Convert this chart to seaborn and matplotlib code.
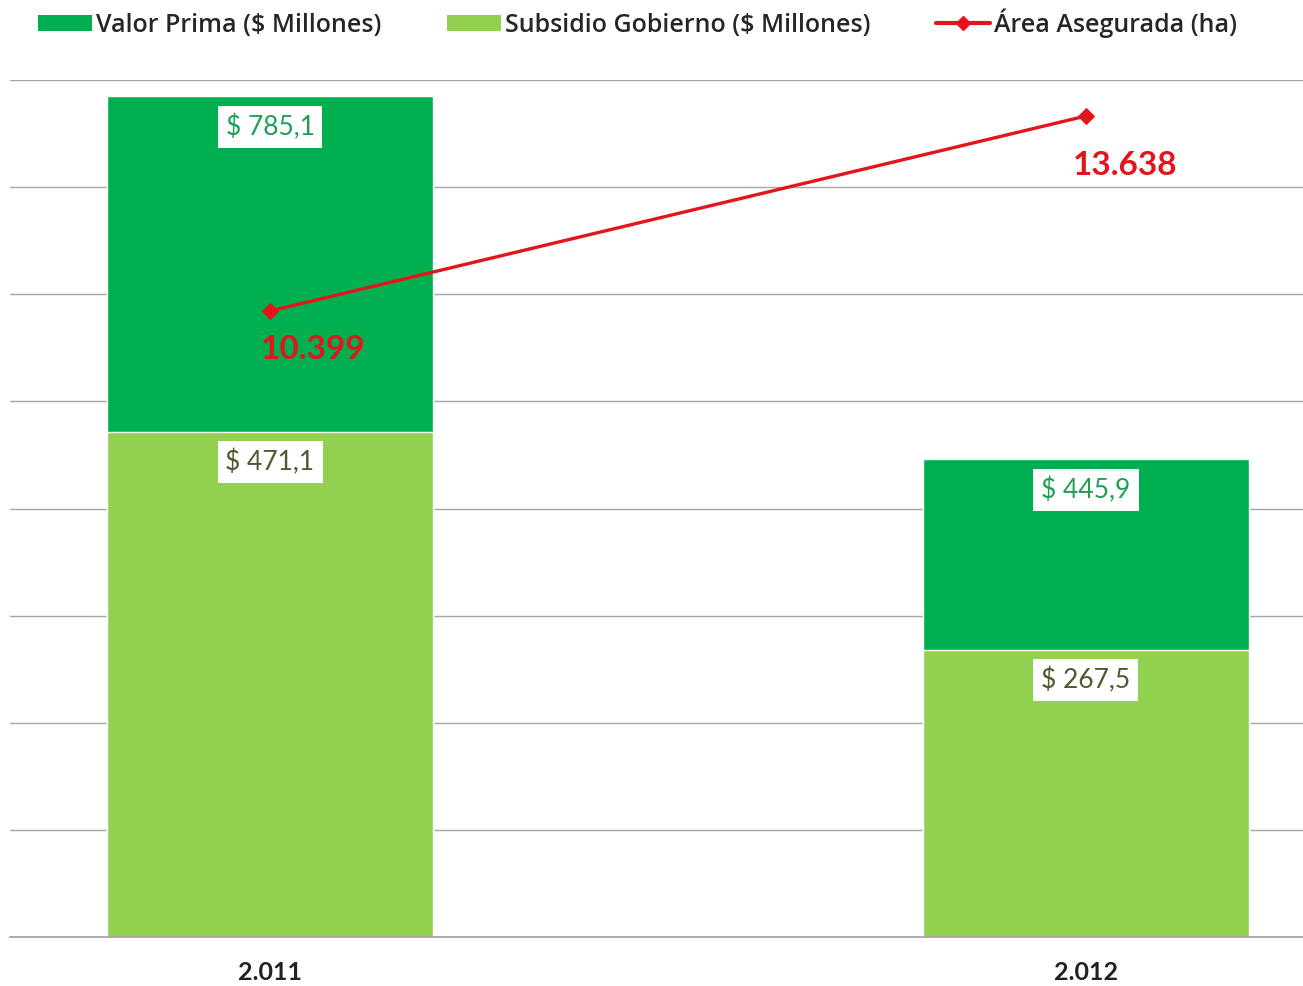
import matplotlib
matplotlib.use("Agg")
import matplotlib.pyplot as plt
import seaborn as sns
from matplotlib.patches import Patch
from matplotlib.lines import Line2D

# datos
anios = ["2.011", "2.012"]
valor_prima = [785.1, 445.9]
subsidio = [471.1, 267.5]
area = [10399, 13638]
etiq_prima = ["$ 785,1", "$ 445,9"]
etiq_subsidio = ["$ 471,1", "$ 267,5"]
etiq_area = ["10.399", "13.638"]

verde_osc = "#00B050"
verde_cla = "#92D050"
rojo = "#E3141C"

sns.set_theme(style="white")
plt.rcParams["font.family"] = ["Lato", "DejaVu Sans"]

fig = plt.figure(figsize=(13.03, 9.86), dpi=100)
ax = fig.add_axes([10 / 1303, 49 / 986, 1293 / 1303, 857 / 986])

# barras superpuestas (no apiladas): prima completa, subsidio encima desde cero
sns.barplot(x=anios, y=valor_prima, color=verde_osc, saturation=1, width=0.4, ax=ax)
sns.barplot(x=anios, y=subsidio, color=verde_cla, saturation=1, width=0.4, ax=ax)

ax.set_xlim(-0.3187, 1.266)
ax.set_ylim(0, 800)
ax.set_yticks(range(0, 801, 100))
ax.set_yticklabels([])
ax.tick_params(axis="y", length=0)
ax.grid(axis="y", color="#A6A6A6", linewidth=1)
ax.set_axisbelow(True)
for s in ["top", "right", "left"]:
    ax.spines[s].set_visible(False)
ax.spines["bottom"].set_color("#A0A0A0")
ax.spines["bottom"].set_linewidth(1.2)
ax.set_xticks([0, 1])
ax.set_xticklabels(anios, fontsize=18, fontweight="bold", color="#222222")
ax.tick_params(axis="x", length=0, pad=17)
ax.set_xticks([0.5], minor=True)
ax.tick_params(axis="x", which="minor", length=6, color="#808080", width=1.2)
ax.set_xlabel("")
ax.set_ylabel("")

caja = dict(boxstyle="square,pad=0.3", facecolor="white", edgecolor="none")
for i in range(len(anios)):
    ax.annotate(etiq_prima[i], (i, valor_prima[i]), xytext=(0, -31), textcoords="offset pixels",
                ha="center", va="center", fontsize=19, color="#1FA055", bbox=caja)
    ax.annotate(etiq_subsidio[i], (i, subsidio[i]), xytext=(0, -30), textcoords="offset pixels",
                ha="center", va="center", fontsize=19, color="#4F5A2E", bbox=caja)

# eje secundario para el área asegurada
ax2 = ax.twinx()
sns.lineplot(x=[0, 1], y=area, color=rojo, linewidth=2.4, marker="D", markersize=8,
             markeredgecolor=rojo, ax=ax2)
ax2.set_ylim(0, 14236)
ax2.set_yticks([])
ax2.set_ylabel("")
for s in ax2.spines.values():
    s.set_visible(False)
desplaz = [(43, -39), (39, -50)]
for i in range(len(anios)):
    ax2.annotate(etiq_area[i], (i, area[i]), xytext=desplaz[i], textcoords="offset pixels",
                 ha="center", va="center", fontsize=24, fontweight="bold", color=rojo)

handles = [
    Patch(facecolor=verde_osc, edgecolor="none"),
    Patch(facecolor=verde_cla, edgecolor="none"),
    Line2D([0], [0], color=rojo, linewidth=3, marker="D", markersize=7),
]
labels = ["Valor Prima ($ Millones)", "Subsidio Gobierno ($ Millones)", "Área Asegurada (ha)"]
fig.legend(handles, labels, loc="center left", bbox_to_anchor=(38 / 1303, 1 - 23 / 986), ncol=3,
           frameon=False, handlelength=2.16, handleheight=0.6, handletextpad=0.15,
           columnspacing=2.64, borderpad=0, borderaxespad=0,
           prop={"family": ["Open Sans", "DejaVu Sans"], "weight": "semibold", "size": 18})

fig.savefig("out.png", dpi=100)
